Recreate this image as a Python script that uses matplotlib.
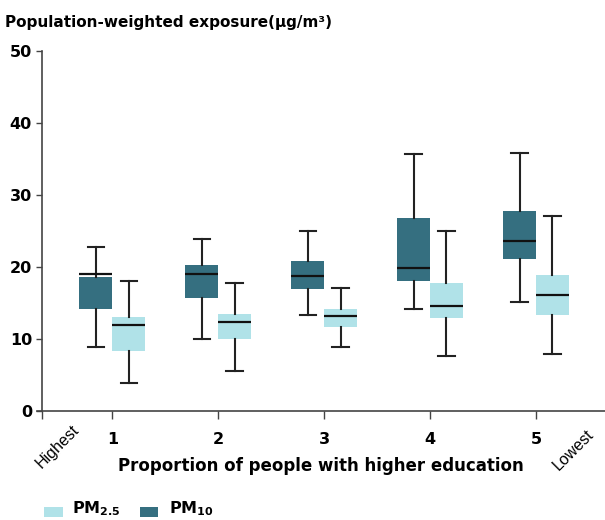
import matplotlib
matplotlib.use("Agg")
import matplotlib.pyplot as plt
from matplotlib.patches import Rectangle

plt.rcParams['font.family'] = ['DejaVu Sans']

groups = [1, 2, 3, 4, 5]
# PM10 stats: whislo, q1, med, q3, whishi
pm10_whislo = [8.9, 9.95, 13.4, 14.1, 15.1]
pm10_q1 = [14.2, 15.7, 17.0, 18.0, 21.1]
pm10_med = [19.0, 19.0, 18.7, 19.8, 23.65]
pm10_q3 = [18.6, 20.3, 20.8, 26.8, 27.8]
pm10_whishi = [22.8, 23.9, 24.95, 35.7, 35.8]
# PM2.5 stats
pm25_whislo = [3.9, 5.6, 8.9, 7.7, 7.9]
pm25_q1 = [8.4, 10.05, 11.6, 12.96, 13.4]
pm25_med = [11.9, 12.4, 13.2, 14.6, 16.1]
pm25_q3 = [13.05, 13.5, 14.2, 17.8, 18.9]
pm25_whishi = [18.0, 17.8, 17.1, 25.0, 27.1]

yticks = [0, 10, 20, 30, 40, 50]

dark = '#356f80'
light = '#b0e2e8'
axcol = '#444444'

W, H = 605, 520
fig = plt.figure(figsize=(6.05, 5.2), dpi=100)
ax = fig.add_axes([37/W, 1-411/H, 1-37/W, (411-51)/H])

width = 0.31
def stats(lo, q1, med, q3, hi):
    return [dict(whislo=a, q1=b, med=c, q3=d, whishi=e, fliers=[])
            for a, b, c, d, e in zip(lo, q1, med, q3, hi)]

common = dict(widths=width, patch_artist=True, showfliers=False, capwidths=width*0.5,
              whiskerprops=dict(color='#222222', lw=1.5),
              capprops=dict(color='#222222', lw=1.5),
              medianprops=dict(color='#111111', lw=1.6))

ax.bxp(stats(pm10_whislo, pm10_q1, pm10_med, pm10_q3, pm10_whishi),
       positions=[g - width/2 for g in groups],
       boxprops=dict(facecolor=dark, edgecolor='none'), **common)
ax.bxp(stats(pm25_whislo, pm25_q1, pm25_med, pm25_q3, pm25_whishi),
       positions=[g + width/2 for g in groups],
       boxprops=dict(facecolor=light, edgecolor='none'), **common)

step = (536 - 112.3) / 4
x0 = 1 - (112.3 - 37) / step
xy = 1 - (112.3 - 41.7) / step
x1 = 5 + (605 - 536) / step
ax.set_xlim(x0, x1)
ax.set_ylim(0, 50)
ax.spines['left'].set_position(('data', xy))
ax.set_yticks(yticks)
ax.set_yticklabels([str(v) for v in yticks], fontsize=11.5, fontweight='bold')
ax.set_xticks([xy] + groups)
ax.set_xticklabels([''] + [str(g) for g in groups], fontsize=11.5, fontweight='bold')
ax.tick_params(axis='y', direction='out', length=4, width=1, color=axcol, pad=3)
ax.tick_params(axis='x', direction='out', length=6, width=1, color=axcol, pad=9)
for s in ['top', 'right']:
    ax.spines[s].set_visible(False)
for s in ['left', 'bottom']:
    ax.spines[s].set_linewidth(1.2)
    ax.spines[s].set_color(axcol)

ax.set_xlabel('Proportion of people with higher education', fontsize=12,
              fontweight='bold', labelpad=7)

fig.text(5/W, 1-22/H, 'Population-weighted exposure(μg/m³)', fontsize=11,
         fontweight='bold', va='center', ha='left')

fig.text(58/W, 1-447/H, 'Highest', fontsize=11.5, rotation=45,
         ha='center', va='center', family='Liberation Sans')
fig.text(573/W, 1-450/H, 'Lowest', fontsize=11.5, rotation=45,
         ha='center', va='center', family='Liberation Sans')

# legend
fig.add_artist(Rectangle((44/W, 1-517/H), 19/W, 10/H, facecolor=light,
                         edgecolor='none', transform=fig.transFigure))
fig.add_artist(Rectangle((140/W, 1-517/H), 18/W, 10/H, facecolor=dark,
                         edgecolor='none', transform=fig.transFigure))
fig.text(72/W, 1-513/H, r'$\mathbf{PM_{2.5}}$', fontsize=11.5, va='baseline', ha='left')
fig.text(169/W, 1-513/H, r'$\mathbf{PM_{10}}$', fontsize=11.5, va='baseline', ha='left')

fig.savefig('out.png', dpi=100)
